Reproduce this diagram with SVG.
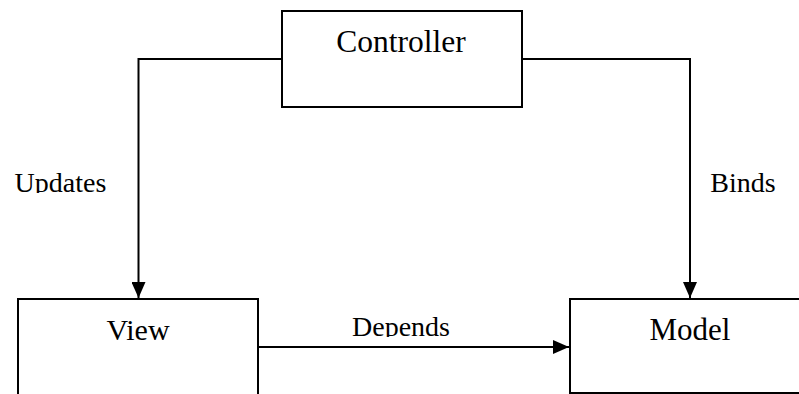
<svg xmlns="http://www.w3.org/2000/svg" width="799" height="394" viewBox="0 0 799 394">
<style>
.box{fill:#fff;stroke:#000;stroke-width:2}
.line{fill:none;stroke:#000;stroke-width:2}
text{font-family:"Liberation Serif","Times New Roman",serif;fill:#000;text-anchor:middle}
</style>
<defs>
<marker id="arr" markerWidth="16" markerHeight="14" refX="16" refY="7" orient="auto" markerUnits="userSpaceOnUse">
<path d="M0,0 L16,7 L0,14 Z" fill="#000"/>
</marker>
<clipPath id="clipU"><rect x="0" y="150" width="130" height="43"/></clipPath>
<clipPath id="clipD"><rect x="300" y="300" width="200" height="37"/></clipPath>
</defs>
<rect width="799" height="394" fill="#fff"/>
<g id="connectors">
<path class="line" d="M282,59 H138.5 V298" marker-end="url(#arr)"/>
<path class="line" d="M522,59 H690 V298" marker-end="url(#arr)"/>
<path class="line" d="M258,347 H569" marker-end="url(#arr)"/>
<text x="60.5" y="192" font-size="28" clip-path="url(#clipU)">Updates</text>
<text x="743" y="192" font-size="28">Binds</text>
<text x="401" y="335.5" font-size="28" clip-path="url(#clipD)">Depends</text>
</g>
<g id="controller">
<rect class="box" x="282" y="11" width="240" height="96"/>
<text x="401" y="52" font-size="31.5">Controller</text>
</g>
<g id="view">
<rect class="box" x="18" y="299" width="240" height="110"/>
<text x="138" y="340" font-size="30">View</text>
</g>
<g id="model">
<rect class="box" x="570" y="299" width="240" height="94" style="stroke-width:2"/>
<text x="690" y="340" font-size="31">Model</text>
</g>
</svg>
